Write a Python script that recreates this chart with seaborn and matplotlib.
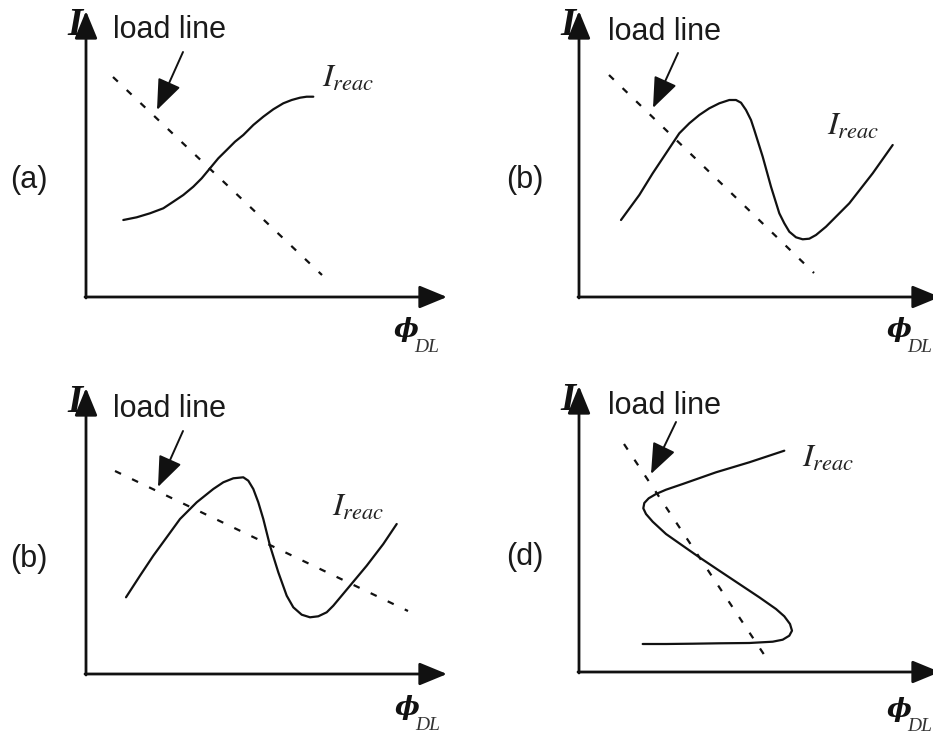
import numpy as np
import seaborn as sns
import matplotlib.pyplot as plt

# Schematic units: 1 unit = 10 px, origin at each panel's axis corner
panel_names = ['a', 'b1', 'b2', 'd']
panel_tags = ['(a)', '(b)', '(b)', '(d)']
origins_px = [(86, 297), (579, 297), (86, 674), (579, 672)]

# I_reac curves
curve_a_x = [3.73, 5.07, 6.4, 7.73, 8.73, 9.73, 10.73, 11.57, 12.4, 13.23, 14.07,
             14.9, 15.73, 16.73, 17.73, 18.73, 19.73, 20.57, 21.4, 22.07, 22.73]
curve_a_y = [7.7, 7.97, 8.37, 8.87, 9.53, 10.2, 11.03, 11.87, 12.87, 13.87, 14.7,
             15.53, 16.2, 17.2, 18.03, 18.77, 19.37, 19.7, 19.93, 20.03, 20.03]

curve_b1_x = [4.2, 6.03, 7.37, 8.7, 10.03, 11.03, 12.03, 13.03, 14.03, 15.03, 15.7,
              16.2, 16.7, 17.2, 17.53, 18.37, 19.2, 20.03, 20.53, 21.03, 21.7,
              22.37, 23.03, 23.7, 24.7, 27.03, 29.37, 31.37]
curve_b1_y = [7.7, 10.2, 12.37, 14.37, 16.37, 17.37, 18.2, 18.87, 19.37, 19.7, 19.7,
              19.43, 18.7, 17.7, 16.7, 14.03, 11.03, 8.37, 7.37, 6.53, 5.97,
              5.77, 5.83, 6.2, 7.03, 9.37, 12.37, 15.2]

curve_b2_x = [4.0, 5.4, 6.73, 8.07, 9.4, 11.07, 12.73, 13.73, 14.73, 15.73, 16.23,
              16.73, 17.23, 17.73, 18.4, 19.23, 20.07, 20.73, 21.57, 22.4, 23.23,
              24.07, 24.73, 26.4, 28.07, 29.73, 31.07]
curve_b2_y = [7.67, 9.83, 11.83, 13.67, 15.5, 17.17, 18.5, 19.17, 19.57, 19.67, 19.33,
              18.5, 17.17, 15.5, 12.83, 10.17, 7.83, 6.67, 5.93, 5.67, 5.77,
              6.17, 6.83, 8.83, 10.83, 13.0, 15.0]

curve_d_x = [20.53, 17.03, 13.7, 10.37, 8.7, 7.7, 6.97, 6.53, 6.43, 6.7, 7.37, 8.7,
             10.37, 12.03, 14.03, 16.03, 18.03, 19.7, 20.53, 21.1, 21.3, 21.03,
             20.37, 19.37, 17.03, 14.03, 11.37, 8.7, 6.37]
curve_d_y = [22.13, 20.97, 19.97, 18.8, 18.23, 17.8, 17.37, 16.9, 16.37, 15.8, 15.03, 13.8,
             12.63, 11.47, 10.13, 8.8, 7.47, 6.3, 5.57, 4.8, 4.13, 3.63,
             3.23, 3.03, 2.9, 2.87, 2.83, 2.8, 2.8]

curves = {'a': (curve_a_x, curve_a_y), 'b1': (curve_b1_x, curve_b1_y),
          'b2': (curve_b2_x, curve_b2_y), 'd': (curve_d_x, curve_d_y)}

# load lines (start, end)
load_x = {'a': [2.7, 23.6], 'b1': [3.0, 23.5], 'b2': [2.9, 32.2], 'd': [4.5, 19.0]}
load_y = {'a': [22.0, 2.2], 'b1': [22.2, 2.4], 'b2': [20.3, 6.3], 'd': [22.8, 1.0]}

# pointer arrows: (start), (tip)
pointer = {'a': ((9.7, 24.5), (7.1, 18.7)), 'b1': ((9.9, 24.4), (7.4, 18.9)),
           'b2': ((9.7, 24.3), (7.2, 18.7)), 'd': ((9.7, 25.0), (7.2, 19.8))}

# label anchors
reac_pos = {'a': (23.6, 21.0), 'b1': (24.8, 16.2), 'b2': (24.6, 15.8), 'd': (22.3, 20.5)}
loadtxt_pos = {'a': (2.7, 25.9), 'b1': (2.9, 25.7), 'b2': (2.7, 25.7), 'd': (2.9, 25.8)}
tag_pos = {'a': (-7.6, 11.7), 'b1': (-7.3, 11.7), 'b2': (-7.6, 11.5), 'd': (-7.3, 11.5)}
phi_pos = {'a': (32.0, -3.3), 'b1': (32.0, -3.3), 'b2': (32.1, -3.4), 'd': (32.0, -3.7)}

x_axis_len = 36.1
y_axis_len = 28.6

sns.set_theme(style='white')
plt.rcParams['font.family'] = ['Liberation Sans', 'DejaVu Sans']
plt.rcParams['mathtext.fontset'] = 'stix'

W, H = 933, 738
fig = plt.figure(figsize=(W / 100, H / 100), dpi=100)
fig.patch.set_facecolor('white')

ink = '#111111'
xmin, xmax, ymin, ymax = -9, 37, -6, 30

for name, tag, (ox, oy) in zip(panel_names, panel_tags, origins_px):
    left = (ox + xmin * 10) / W
    bottom = (H - (oy - ymin * 10)) / H
    ax = fig.add_axes([left, bottom, (xmax - xmin) * 10 / W, (ymax - ymin) * 10 / H])
    ax.set_xlim(xmin, xmax)
    ax.set_ylim(ymin, ymax)
    ax.set_axis_off()

    # axes with arrowheads
    arrow_kw = dict(arrowstyle='-|>,head_length=17,head_width=7', mutation_scale=1,
                    color=ink, lw=2.0, shrinkA=0, shrinkB=0)
    ax.annotate('', xy=(x_axis_len, 0), xytext=(-0.1, 0), arrowprops=arrow_kw,
                annotation_clip=False)
    ax.annotate('', xy=(0, y_axis_len), xytext=(0, -0.1), arrowprops=arrow_kw,
                annotation_clip=False)

    # load line (dashed)
    sns.lineplot(x=load_x[name], y=load_y[name], ax=ax, color=ink, lw=1.6,
                 linestyle=(0, (3.0, 5.5)), sort=False, estimator=None)

    # reaction current curve
    cx, cy = curves[name]
    sns.lineplot(x=cx, y=cy, ax=ax, color=ink, lw=1.6, sort=False, estimator=None,
                 solid_joinstyle='round', solid_capstyle='round')

    # pointer arrow to load line
    (sx, sy), (tx, ty) = pointer[name]
    ax.annotate('', xy=(tx, ty), xytext=(sx, sy),
                arrowprops=dict(arrowstyle='-|>,head_length=19,head_width=7.5',
                                mutation_scale=1, color=ink, lw=1.4,
                                shrinkA=0, shrinkB=0))

    # texts
    ax.text(-0.3, 27.2, 'I', fontsize=28, fontfamily=['Liberation Serif', 'DejaVu Serif'],
            fontstyle='italic', fontweight='bold', ha='right', va='center', color=ink)
    lx, ly = loadtxt_pos[name]
    ax.text(lx, ly, 'load line', fontsize=22, ha='left', va='baseline', color='#1a1a1a')
    tx_, ty_ = tag_pos[name]
    ax.text(tx_, ty_, tag, fontsize=22, ha='left', va='center', color='#1a1a1a')
    rx, ry = reac_pos[name]
    ax.text(rx, ry, r'$I_{reac}$', fontsize=23, ha='left', va='baseline', color='#222222')
    px, py = phi_pos[name]
    ax.text(px, py, '\u03d5', fontsize=19, fontfamily=['DejaVu Serif'], fontstyle='italic',
            fontweight='bold', ha='center', va='center', color=ink)
    ax.text(px + 0.8, py - 2.2, 'DL', fontsize=14,
            fontfamily=['Liberation Serif', 'DejaVu Serif'], fontstyle='italic',
            ha='left', va='baseline', color='#333333')

fig.savefig('out.png', dpi=100, facecolor='white')
